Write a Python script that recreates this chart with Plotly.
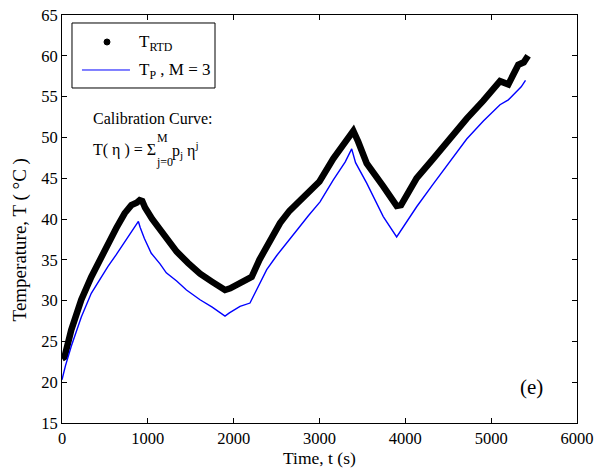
import plotly.graph_objects as go

# Measured RTD temperature (deg C) vs time (s)
t_rtd = [0, 30, 108, 225, 341, 458, 536, 633, 730, 808, 870, 905, 935, 967,
         1050, 1142, 1336, 1470, 1608, 1750, 1899, 1960, 2074, 2210, 2300,
         2385, 2540, 2650, 2773, 2889, 3000, 3161, 3300, 3394, 3450, 3550,
         3743, 3899, 3950, 4132, 4326, 4520, 4715, 4909, 5103, 5200, 5250,
         5316, 5380, 5430]
T_rtd = [22.9, 23.1, 26.4, 30.1, 32.9, 35.4, 37.2, 38.9, 40.7, 41.7, 42.0,
         42.3, 42.2, 41.4, 40.0, 38.7, 36.0, 34.6, 33.3, 32.3, 31.3, 31.5,
         32.1, 32.9, 35.0, 36.6, 39.5, 41.0, 42.3, 43.4, 44.6, 47.4, 49.6,
         50.8, 49.5, 46.8, 44.0, 41.6, 41.7, 45.0, 47.4, 50.0, 52.3, 54.5,
         56.9, 56.5, 57.5, 58.9, 59.2, 60.0]

# Calibration-curve prediction T_P (M = 3)
t_p = [0, 40, 108, 225, 341, 440, 536, 630, 730, 800, 866, 890, 910, 960,
       1040, 1142, 1215, 1336, 1450, 1608, 1750, 1899, 1950, 2074, 2190,
       2250, 2385, 2500, 2618, 2750, 2870, 3006, 3161, 3300, 3375, 3420,
       3550, 3743, 3899, 3950, 4132, 4326, 4520, 4715, 4909, 5103, 5200,
       5258, 5350, 5400]
T_p = [20.3, 22.0, 24.4, 28.0, 30.9, 32.6, 34.2, 35.6, 37.2, 38.3, 39.4,
       39.7, 39.0, 37.6, 35.8, 34.5, 33.4, 32.4, 31.3, 30.1, 29.2, 28.1,
       28.5, 29.3, 29.7, 31.0, 33.8, 35.5, 37.0, 38.8, 40.4, 42.1, 44.8,
       47.0, 48.6, 46.9, 44.4, 40.3, 37.8, 38.6, 41.5, 44.3, 47.0, 49.8,
       52.0, 54.0, 54.6, 55.2, 56.2, 57.0]

x_ticks = [0, 1000, 2000, 3000, 4000, 5000, 6000]
y_ticks = [15, 20, 25, 30, 35, 40, 45, 50, 55, 60, 65]

FONT = "Liberation Serif"

fig = go.Figure()

# Thick black band for the RTD readings
fig.add_trace(go.Scatter(
    x=t_rtd, y=T_rtd, mode="lines",
    line=dict(color="black", width=6.5),
    showlegend=False, hoverinfo="skip",
))
# Calibration-curve prediction
fig.add_trace(go.Scatter(
    x=t_p, y=T_p, mode="lines",
    line=dict(color="#0000ff", width=1.4),
    showlegend=False, hoverinfo="skip",
))

axis_common = dict(
    showline=True, linecolor="black", linewidth=1,
    mirror="ticks", ticks="inside", ticklen=5, tickcolor="black",
    showgrid=False, zeroline=False, automargin=False,
    ticklabeloverflow="allow",
    tickfont=dict(family=FONT, size=16.5, color="black"),
)

fig.update_xaxes(range=[0, 6000], tickvals=x_ticks, **axis_common)
fig.update_yaxes(range=[15, 65], tickvals=y_ticks, **axis_common)

# Hand-built legend box (long line sample, dot marker)
shapes = [
    dict(type="rect", xref="paper", yref="paper",
         x0=0.0194, x1=0.2971, y0=0.8211, y1=0.9804,
         line=dict(color="black", width=1), fillcolor="white", layer="above"),
    dict(type="circle", xref="paper", yref="paper",
         x0=0.0816, x1=0.0932, y0=0.9265, y1=0.9412,
         line=dict(color="black", width=1), fillcolor="black", layer="above"),
    dict(type="line", xref="paper", yref="paper",
         x0=0.0388, x1=0.1320, y0=0.8652, y1=0.8652,
         line=dict(color="#0000ff", width=1), layer="above"),
]

title_font = dict(family=FONT, size=17.5, color="black")
ann_font = dict(family=FONT, size=16, color="black")
leg_font = dict(family=FONT, size=17, color="black")
small_font = dict(family=FONT, size=12, color="black")
annotations = [
    # axis titles
    dict(text="Time, t (s)", x=0.5, y=-0.0858, xref="paper", yref="paper",
         xanchor="center", yanchor="middle", showarrow=False,
         borderpad=0, font=title_font),
    dict(text="Temperature, T ( °C )", x=-0.0816, y=0.45, xref="paper",
         yref="paper", xanchor="center", yanchor="middle", textangle=-90,
         showarrow=False, font=dict(family=FONT, size=19, color="black")),
    # legend labels
    dict(text="T<sub>RTD</sub>", x=0.1456, y=0.931, xref="paper",
         yref="paper", xanchor="left", yanchor="middle", showarrow=False,
         font=leg_font),
    dict(text="T<sub>P</sub> , M = 3", x=0.1456, y=0.8627, xref="paper",
         yref="paper", xanchor="left", yanchor="middle", showarrow=False,
         font=leg_font),
    # calibration-curve note
    dict(text="Calibration Curve:", x=0.056, y=0.7475, xref="paper",
         yref="paper", xanchor="left", yanchor="middle", showarrow=False,
         font=ann_font),
    dict(text="T( η ) = Σ", x=0.056, y=0.669, xref="paper", yref="paper",
         xanchor="left", yanchor="middle", showarrow=False, font=ann_font),
    dict(text="M", x=0.1806, y=0.6985, xref="paper", yref="paper",
         xanchor="left", yanchor="middle", showarrow=False, font=small_font),
    dict(text="j=0", x=0.1786, y=0.6397, xref="paper", yref="paper",
         xanchor="left", yanchor="middle", showarrow=False, font=small_font),
    dict(text="p<sub>j</sub> η<sup>j</sup>", x=0.2097, y=0.669,
         xref="paper", yref="paper", xanchor="left", yanchor="middle",
         showarrow=False, font=ann_font),
    dict(text="(e)", x=0.9126, y=0.088, xref="paper", yref="paper",
         xanchor="center", yanchor="middle", showarrow=False,
         font=dict(family=FONT, size=21, color="black")),
]

fig.update_layout(
    width=594, height=468,
    margin=dict(l=62, r=17, t=15, b=45),
    plot_bgcolor="white", paper_bgcolor="white",
    font=dict(family=FONT, size=16, color="black"),
    showlegend=False,
    shapes=shapes,
    annotations=annotations,
)

fig.write_html("out.html")
